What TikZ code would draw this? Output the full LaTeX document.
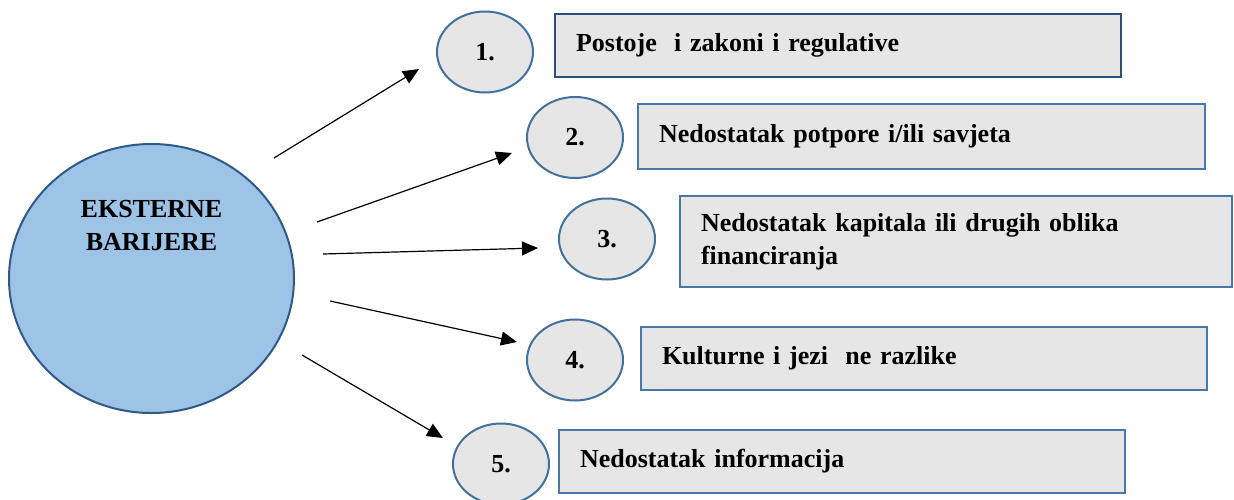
\documentclass[tikz,border=0pt]{standalone}
\usepackage{fontspec}
\setmainfont{Liberation Serif}
\usetikzlibrary{shapes.geometric,arrows.meta}
\definecolor{bigfill}{HTML}{9DC3E6}
\definecolor{bigline}{HTML}{2E5A87}
\definecolor{smallfill}{HTML}{E7E6E6}
\definecolor{smallline}{HTML}{41719C}
\definecolor{boxfill}{HTML}{E6E6E6}
\definecolor{boxline}{HTML}{4A76A8}
\definecolor{boxlinedark}{HTML}{2A4F7C}
\tikzset{
  txt/.style={font=\fontsize{26}{33}\selectfont\bfseries},
  bigc/.style={ellipse, draw=bigline, fill=bigfill, line width=2pt, minimum width=285pt, minimum height=269pt, inner sep=0pt},
  smallc/.style={ellipse, draw=smallline, fill=smallfill, line width=2pt, minimum width=96pt, minimum height=81pt, inner sep=0pt, txt},
  barbox/.style={rectangle, draw=boxline, fill=boxfill, line width=2.4pt, inner xsep=21pt, inner ysep=0pt, align=left, txt},
  arr/.style={line width=1.2pt, -{Triangle[length=16pt,width=14pt]}},
}
\begin{document}
\begin{tikzpicture}[x=1pt,y=-1pt]
\useasboundingbox[fill=white] (0,0) rectangle (1234,499);
% big circle
\node[bigc] (ext) at (151.5,278.5) {};
\node[txt, align=center] (extlbl) at (151.5,226) {EKSTERNE\\BARIJERE};
% small circles
\node[smallc] (c1) at (485,52) {1.};
\node[smallc] (c2) at (575,137.5) {2.};
\node[smallc] (c3) at (607,239) {3.};
\node[smallc] (c4) at (575,360) {4.};
\node[smallc] (c5) at (501,464) {5.};
% boxes
\node[barbox, draw=boxlinedark, minimum height=63pt, text width=524pt] (b1) at (838,45.5) {Postoje\ \ i zakoni i regulative};
\node[barbox, minimum height=65pt, text width=525pt] (b2) at (921.5,136.5) {Nedostatak potpore i/ili savjeta};
\node[barbox, minimum height=91pt, text width=510pt] (b3) at (956,241.5) {Nedostatak kapitala ili drugih oblika\\financiranja};
\node[barbox, minimum height=63pt, text width=524pt] (b4) at (924,358.5) {Kulturne i jezi\ \ ne razlike};
\node[barbox, minimum height=63pt, text width=524pt] (b5) at (842,461.5) {Nedostatak informacija};
% arrows
\coordinate (s1) at (274,158); \coordinate (t1) at (419,69);
\coordinate (s2) at (317,222); \coordinate (t2) at (512,153);
\coordinate (s3) at (323,254); \coordinate (t3) at (538,248);
\coordinate (s4) at (330,301); \coordinate (t4) at (517,342);
\coordinate (s5) at (302,355); \coordinate (t5) at (443,438);
\draw[arr] (s1) -- (t1);
\draw[arr] (s2) -- (t2);
\draw[arr] (s3) -- (t3);
\draw[arr] (s4) -- (t4);
\draw[arr] (s5) -- (t5);
\end{tikzpicture}
\end{document}
